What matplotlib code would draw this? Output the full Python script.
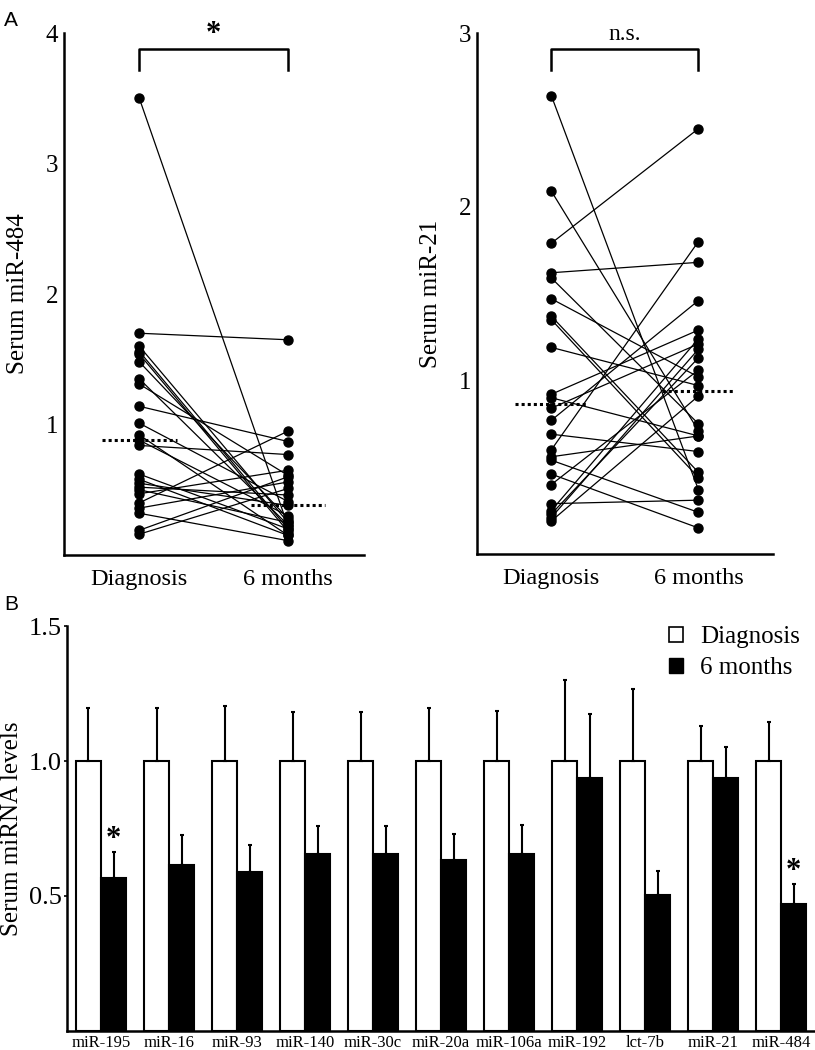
import numpy as np
import matplotlib.pyplot as plt
from matplotlib.patches import Patch

plt.rcParams['font.family'] = ['Liberation Serif', 'DejaVu Serif']

# ---- Panel A: paired serum levels (Diagnosis -> 6 months) ----
groups = ["Diagnosis", "6 months"]

mir484_diag = [3.50, 1.70, 1.60, 1.56, 1.54, 1.48, 1.35, 1.31, 1.14, 1.01, 0.92, 0.88,
               0.84, 0.62, 0.58, 0.55, 0.52, 0.50, 0.47, 0.40, 0.36, 0.32, 0.19, 0.16]
mir484_6mo = [0.22, 1.65, 0.25, 0.20, 0.18, 0.28, 0.23, 0.61, 0.87, 0.41, 0.15, 0.30,
              0.77, 0.20, 0.15, 0.38, 0.46, 0.25, 0.65, 0.95, 0.56, 0.11, 0.60, 0.51]
mir484_median = [0.88, 0.385]

mir21_diag = [2.64, 2.09, 1.79, 1.62, 1.59, 1.47, 1.37, 1.35, 1.19, 0.92, 0.90, 0.84,
              0.77, 0.69, 0.60, 0.56, 0.54, 0.46, 0.40, 0.29, 0.25, 0.23, 0.21, 0.19]
mir21_6mo = [0.37, 0.71, 2.45, 1.68, 0.75, 1.02, 0.47, 0.44, 0.97, 1.29, 0.68, 1.21,
             1.46, 0.59, 1.80, 0.68, 0.24, 0.15, 1.06, 0.31, 1.24, 1.13, 1.18, 0.91]
mir21_median = [0.863, 0.94]

# ---- Panel B: mean serum miRNA levels ----
mirnas = ["miR-195", "miR-16", "miR-93", "miR-140", "miR-30c", "miR-20a",
          "miR-106a", "miR-192", "lct-7b", "miR-21", "miR-484"]
diag_mean = [1.0] * 11
diag_err = [0.196, 0.196, 0.204, 0.18, 0.18, 0.196, 0.185, 0.30, 0.267, 0.13, 0.144]
m6_mean = [0.567, 0.615, 0.589, 0.656, 0.656, 0.633, 0.656, 0.937, 0.504, 0.937, 0.470]
m6_err = [0.096, 0.111, 0.100, 0.103, 0.103, 0.097, 0.107, 0.237, 0.089, 0.115, 0.074]
significant = ["miR-195", "miR-484"]

fig = plt.figure(figsize=(8.15, 10.5), dpi=100)


def paired_panel(rect, diag, m6, med, ymax, yticks, ylabel, sig):
    ax = fig.add_axes(rect)
    for a, b in zip(diag, m6):
        ax.plot([0, 1], [a, b], color='black', lw=0.9, zorder=2)
    ax.plot(np.zeros(len(diag)), diag, 'o', color='black', ms=6.5, zorder=3)
    ax.plot(np.ones(len(m6)), m6, 'o', color='black', ms=6.5, zorder=3)
    # medians
    ax.plot([-0.25, 0.25], [med[0], med[0]], color='black', lw=2.2, ls=(0, (1, 1)), zorder=4)
    ax.plot([0.75, 1.25], [med[1], med[1]], color='black', lw=2.2, ls=(0, (1, 1)), zorder=4)
    # bracket
    top = ymax * 0.97
    leg = ymax * 0.93
    ax.plot([0, 0, 1, 1], [leg, top, top, leg], color='black', lw=1.8)
    if sig == '*':
        ax.text(0.5, top + ymax * 0.028, '*', ha='center', va='center', fontsize=22, fontweight='bold')
    else:
        ax.text(0.5, top + ymax * 0.028, sig, ha='center', va='center', fontsize=17)
    ax.set_xlim(-0.507, 1.51)
    ax.set_ylim(0, ymax)
    ax.set_yticks(yticks)
    ax.set_yticklabels([str(t) for t in yticks])
    ax.set_xticks([0, 1])
    ax.set_xticklabels(groups)
    ax.tick_params(axis='y', length=0, labelsize=18, pad=4)
    ax.tick_params(axis='x', length=0, labelsize=17.5, pad=10)
    for s in ['top', 'right']:
        ax.spines[s].set_visible(False)
    for s in ['left', 'bottom']:
        ax.spines[s].set_linewidth(1.8)
    ax.set_ylabel(ylabel, fontsize=18, labelpad=12)
    return ax


paired_panel([0.0785, 0.4714, 0.368, 0.497], mir484_diag, mir484_6mo, mir484_median,
             4, [1, 2, 3, 4], "Serum miR-484", '*')
paired_panel([0.585, 0.4724, 0.364, 0.496], mir21_diag, mir21_6mo, mir21_median,
             3, [1, 2, 3], "Serum miR-21", 'n.s.')

# ---- Panel B ----
axb = fig.add_axes([0.0822, 0.0181, 0.918, 0.3857])
x = np.arange(len(mirnas))
w = 0.368
ekw = dict(ecolor='black', elinewidth=1.5, capsize=1.5, capthick=1.5)
axb.bar(x - w / 2, diag_mean, w, color='white', edgecolor='black', lw=1.5,
        yerr=[np.zeros(11), diag_err], error_kw=ekw, label='Diagnosis')
axb.bar(x + w / 2, m6_mean, w, color='black', edgecolor='black', lw=1.5,
        yerr=[np.zeros(11), m6_err], error_kw=ekw, label='6 months')
for name in significant:
    i = mirnas.index(name)
    axb.text(i + w / 2, m6_mean[i] + m6_err[i] + 0.045, '*', ha='center', va='center',
             fontsize=22, fontweight='bold')
axb.set_xlim(-0.5, 10.5)
axb.set_ylim(0, 1.5)
axb.set_yticks([0.5, 1.0, 1.5])
axb.set_yticklabels(['0.5', '1.0', '1.5'])
axb.set_xticks(x)
axb.set_xticklabels(mirnas)
axb.tick_params(axis='y', length=2, width=1.2, labelsize=19, pad=2)
axb.tick_params(axis='x', length=0, labelsize=12, pad=3)
for s in ['top', 'right']:
    axb.spines[s].set_visible(False)
for s in ['left', 'bottom']:
    axb.spines[s].set_linewidth(1.8)
axb.set_ylabel("Serum miRNA levels", fontsize=18, labelpad=4)
handles = [Patch(facecolor='white', edgecolor='black', lw=1.2, label='Diagnosis'),
           Patch(facecolor='black', edgecolor='black', label='6 months')]
axb.legend(handles=handles, loc='upper right', bbox_to_anchor=(1.01, 1.055), frameon=False,
           fontsize=18, handlelength=0.55, handleheight=0.55, handletextpad=0.7, labelspacing=0.35)

fig.text(0.005, 0.99, 'A', fontsize=15, family='Liberation Sans', va='top')
fig.text(0.005, 0.433, 'B', fontsize=15, family='Liberation Sans', va='top')

fig.savefig('out.png', dpi=100)
